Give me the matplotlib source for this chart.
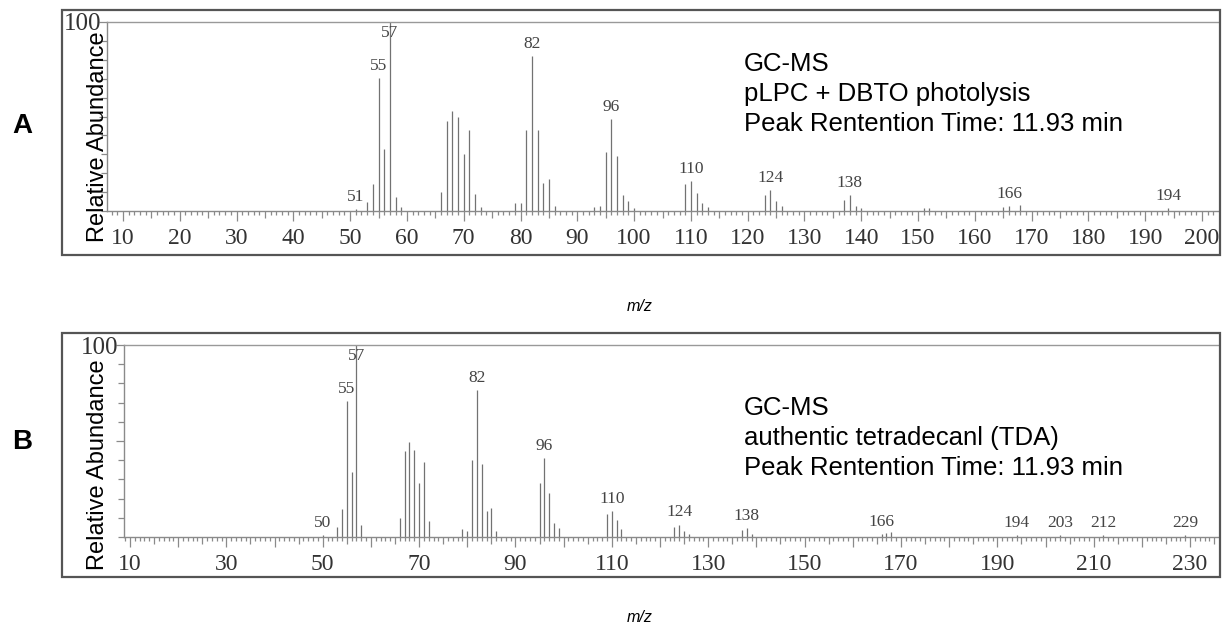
import matplotlib
matplotlib.use("Agg")
import matplotlib.pyplot as plt
from matplotlib.patches import Rectangle
import numpy as np

# ---- spectrum A : pLPC + DBTO photolysis ----
mz_a = [51, 53, 54, 55, 56, 57, 58, 59, 66, 67, 68, 69, 70, 71, 72, 73,
        79, 80, 81, 82, 83, 84, 85, 86, 93, 94, 95, 96, 97, 98, 99, 100,
        109, 110, 111, 112, 113, 123, 124, 125, 126, 137, 138, 139, 140,
        151, 152, 165, 166, 168, 194]
int_a = [1.0, 5.0, 14.5, 70.5, 33.0, 100.0, 7.4, 2.0, 10.0, 47.4, 53.0, 50.0, 30.0, 42.7, 8.8, 2.0,
         4.0, 4.0, 42.7, 81.8, 42.7, 14.8, 17.0, 2.6, 2.0, 2.5, 31.0, 48.5, 29.0, 8.6, 5.3, 1.5,
         14.4, 15.8, 9.7, 4.4, 2.0, 8.3, 10.9, 5.3, 2.5, 5.8, 8.3, 2.5, 1.5,
         1.5, 1.5, 2.0, 2.5, 3.0, 1.5]
labels_a = [51, 55, 57, 82, 96, 110, 124, 138, 166, 194]

# ---- spectrum B : authentic tetradecanal ----
mz_b = [50, 53, 54, 55, 56, 57, 58, 66, 67, 68, 69, 70, 71, 72,
        79, 80, 81, 82, 83, 84, 85, 86, 95, 96, 97, 98, 99,
        109, 110, 111, 112, 123, 124, 125, 126, 137, 138, 139,
        166, 167, 168, 194, 203, 212, 229]
int_b = [1.0, 5.2, 14.5, 71.0, 33.7, 100.0, 6.5, 10.0, 44.8, 49.4, 45.4, 28.0, 39.0, 8.4,
         4.0, 3.0, 40.0, 76.4, 38.0, 13.6, 15.0, 3.0, 28.0, 41.0, 23.0, 7.3, 4.5,
         11.9, 13.6, 9.0, 4.0, 5.3, 6.5, 3.0, 1.5, 3.5, 4.7, 1.5,
         1.5, 2.0, 2.5, 0.8, 0.8, 0.8, 0.8]
labels_b = [50, 55, 57, 82, 96, 110, 124, 138, 166, 194, 203, 212, 229]

text_a = ["GC-MS", "pLPC + DBTO photolysis", "Peak Rentention Time: 11.93 min"]
text_b = ["GC-MS", "authentic tetradecanl (TDA)", "Peak Rentention Time: 11.93 min"]

W, H = 1222, 632
fig = plt.figure(figsize=(W / 100, H / 100), dpi=100)
fig.patch.set_facecolor("white")

AXIS_COL = "#8a8a8a"
PEAK_COL = "#727272"
TXT_COL = "#333333"


def px(x0, y0, x1, y1):
    # pixel box (top-left origin) -> figure fraction [l, b, w, h]
    return [x0 / W, 1 - y1 / H, (x1 - x0) / W, (y1 - y0) / H]


def panel(box, frame, mz, inten, labels, xlim, lab_step, info, info_y, letter, letter_y,
          ylab_y, mz_y):
    # outer frame
    fx0, fy0, fx1, fy1 = frame
    fig.patches.append(Rectangle((fx0 / W, 1 - fy1 / H), (fx1 - fx0) / W, (fy1 - fy0) / H,
                                 transform=fig.transFigure, fill=False,
                                 edgecolor="#555555", linewidth=1.6))

    ax = fig.add_axes(px(*box))
    ax.set_facecolor("none")
    ax.vlines(mz, 0, inten, color=PEAK_COL, linewidth=0.9)
    ax.set_xlim(*xlim)
    ax.set_ylim(0, 100)

    for s in ["left", "bottom"]:
        ax.spines[s].set_color(AXIS_COL)
        ax.spines[s].set_linewidth(1.0)
    ax.spines["right"].set_visible(False)
    ax.spines["top"].set_color("#999999")
    ax.spines["top"].set_linestyle((0, (2, 1)))
    ax.spines["top"].set_linewidth(1.0)

    # x ticks: every 1, medium every 5, long every 10
    start = int(np.ceil(xlim[0]))
    xt = np.arange(start, int(xlim[1]) + 1, 1)
    ax.set_xticks(xt)
    ax.set_xticklabels([str(v) if (v - 10) % lab_step == 0 else "" for v in xt],
                       fontfamily="Liberation Serif", fontsize=17, color=TXT_COL)
    ax.tick_params(axis="x", direction="out", color=AXIS_COL, width=0.9, length=3.5, pad=9)
    for v, t in zip(xt, ax.xaxis.get_major_ticks()):
        if v % 10 == 0:
            t.tick1line.set_markersize(7)
        elif v % 5 == 0:
            t.tick1line.set_markersize(5)
        else:
            t.tick1line.set_markersize(3)

    yt = np.arange(0, 101, 10)
    ax.set_yticks(yt)
    ax.set_yticklabels(["100" if v == 100 else "" for v in yt],
                       fontfamily="Liberation Serif", fontsize=18, color=TXT_COL)
    ax.tick_params(axis="y", direction="out", color=AXIS_COL, width=0.9, length=4, pad=0)
    for v, t in zip(yt, ax.yaxis.get_major_ticks()):
        if v == 50 or v == 100:
            t.tick1line.set_markersize(6)

    # peak labels
    mz_arr = np.array(mz)
    in_arr = np.array(inten)
    for lab in labels:
        top = in_arr[np.abs(mz_arr - lab) <= 0.5].max()
        ax.annotate(str(lab), (lab, min(top, 88)), xytext=(0, 3), textcoords="offset points",
                    ha="center", va="bottom", fontfamily="Liberation Serif", fontsize=12.5,
                    color="#444444")

    fig.text(98 / W, 1 - ylab_y / H, "Relative Abundance", rotation=90,
             fontfamily="Liberation Sans", fontsize=17, ha="center", va="center")

    for i, line in enumerate(info):
        fig.text(744 / W, 1 - (info_y + 30 * i) / H, line, ha="left", va="center",
                 fontfamily="Liberation Sans", fontsize=18.5, color="black")

    fig.text(22 / W, 1 - letter_y / H, letter, fontfamily="Liberation Sans", fontsize=20,
             fontweight="bold", ha="center", va="center")
    fig.text(640 / W, 1 - mz_y / H, "m/z", fontfamily="Liberation Sans", fontsize=11.5,
             style="italic", ha="center", va="center")
    return ax


panel((107, 22, 1218, 211), (62, 10, 1220, 255), mz_a, int_a, labels_a,
      (7.2, 202.8), 10, text_a, 64, "A", 126, 137, 307)
panel((124, 345, 1218, 537), (62, 333, 1220, 577), mz_b, int_b, labels_b,
      (8.75, 235.8), 20, text_b, 408, "B", 442, 465, 617)

fig.savefig("out.png", dpi=100)
